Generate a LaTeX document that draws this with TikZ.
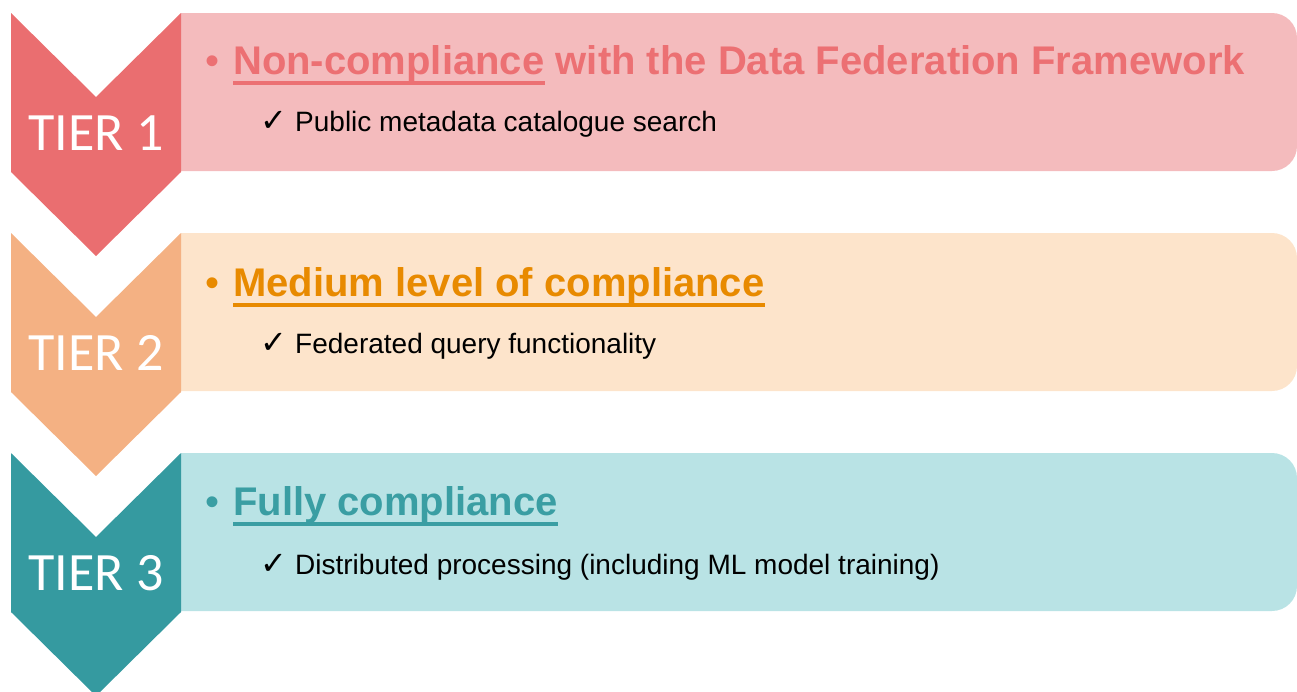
\documentclass[tikz,border=0pt]{standalone}
\usepackage{fontspec}
\setmainfont{Liberation Sans}
\newfontfamily\tierfont{Carlito}
\newfontfamily\symfont{DejaVu Sans}
\definecolor{cOneDark}{RGB}{234,110,112}
\definecolor{cOneText}{RGB}{236,112,115}
\definecolor{cOneLight}{RGB}{244,187,189}
\definecolor{cTwoDark}{RGB}{244,177,131}
\definecolor{cTwoText}{RGB}{232,138,0}
\definecolor{cTwoLight}{RGB}{253,228,203}
\definecolor{cThreeDark}{RGB}{53,154,160}
\definecolor{cThreeText}{RGB}{58,158,163}
\definecolor{cThreeLight}{RGB}{185,227,229}
\tikzset{
  tierlabel/.style={anchor=base, inner sep=0pt, text=white, font=\tierfont\fontsize{54}{60}\selectfont},
  bulletmark/.style={anchor=base west, inner sep=0pt, font=\fontsize{40}{46}\selectfont},
  titletext/.style={anchor=base west, inner sep=0pt, font=\bfseries\fontsize{40}{46}\selectfont},
  checkmark/.style={anchor=base west, inner sep=0pt, font=\symfont\fontsize{32}{36}\selectfont},
  subtext/.style={anchor=base west, inner sep=0pt, font=\fontsize{28}{32}\selectfont},
  uline/.style={line width=3.2pt}
}
\begin{document}
\begin{tikzpicture}[x=1pt,y=-1pt]
\useasboundingbox (0,0) rectangle (1297,691);
% ---------- TIER 1 ----------
\fill[cOneLight] (181,13) -- (1272,13) arc[start angle=-90,end angle=0,radius=25] -- (1297,146) arc[start angle=0,end angle=90,radius=25] -- (181,171) -- cycle;
\fill[cOneDark] (11,13) -- (96,97) -- (181,13) -- (181,172) -- (96,256) -- (11,172) -- cycle;
\node[tierlabel] (t1) at (96,150) {TIER 1};
\node[bulletmark, text=cOneText] (b1) at (205,74) {•};
\node[titletext, text=cOneText] (h1a) at (233,74) {Non-compliance};
\node[titletext, text=cOneText] (h1b) at (h1a.base east) {\ with the Data Federation Framework};
\draw[uline, cOneText] ([yshift=-9pt]h1a.base west) -- ([yshift=-9pt]h1a.base east);
\node[checkmark] (k1) at (260,131) {✓};
\node[subtext] (s1) at (295,131) {Public metadata catalogue search};
% ---------- TIER 2 ----------
\fill[cTwoLight] (181,233) -- (1272,233) arc[start angle=-90,end angle=0,radius=25] -- (1297,366) arc[start angle=0,end angle=90,radius=25] -- (181,391) -- cycle;
\fill[cTwoDark] (11,233) -- (96,317) -- (181,233) -- (181,392) -- (96,476) -- (11,392) -- cycle;
\node[tierlabel] (t2) at (96,370) {TIER 2};
\node[bulletmark, text=cTwoText] (b2) at (205,296) {•};
\node[titletext, text=cTwoText] (h2a) at (233,296) {Medium level of compliance};
\draw[uline, cTwoText] ([yshift=-9pt]h2a.base west) -- ([yshift=-9pt]h2a.base east);
\node[checkmark] (k2) at (260,353) {✓};
\node[subtext] (s2) at (295,353) {Federated query functionality};
% ---------- TIER 3 ----------
\fill[cThreeLight] (181,453) -- (1272,453) arc[start angle=-90,end angle=0,radius=25] -- (1297,586) arc[start angle=0,end angle=90,radius=25] -- (181,611) -- cycle;
\fill[cThreeDark] (11,453) -- (96,537) -- (181,453) -- (181,612) -- (96,696) -- (11,612) -- cycle;
\node[tierlabel] (t3) at (96,590) {TIER 3};
\node[bulletmark, text=cThreeText] (b3) at (205,515) {•};
\node[titletext, text=cThreeText] (h3a) at (233,515) {Fully compliance};
\draw[uline, cThreeText] ([yshift=-9pt]h3a.base west) -- ([yshift=-9pt]h3a.base east);
\node[checkmark] (k3) at (260,574) {✓};
\node[subtext] (s3) at (295,574) {Distributed processing (including ML model training)};
\end{tikzpicture}
\end{document}
